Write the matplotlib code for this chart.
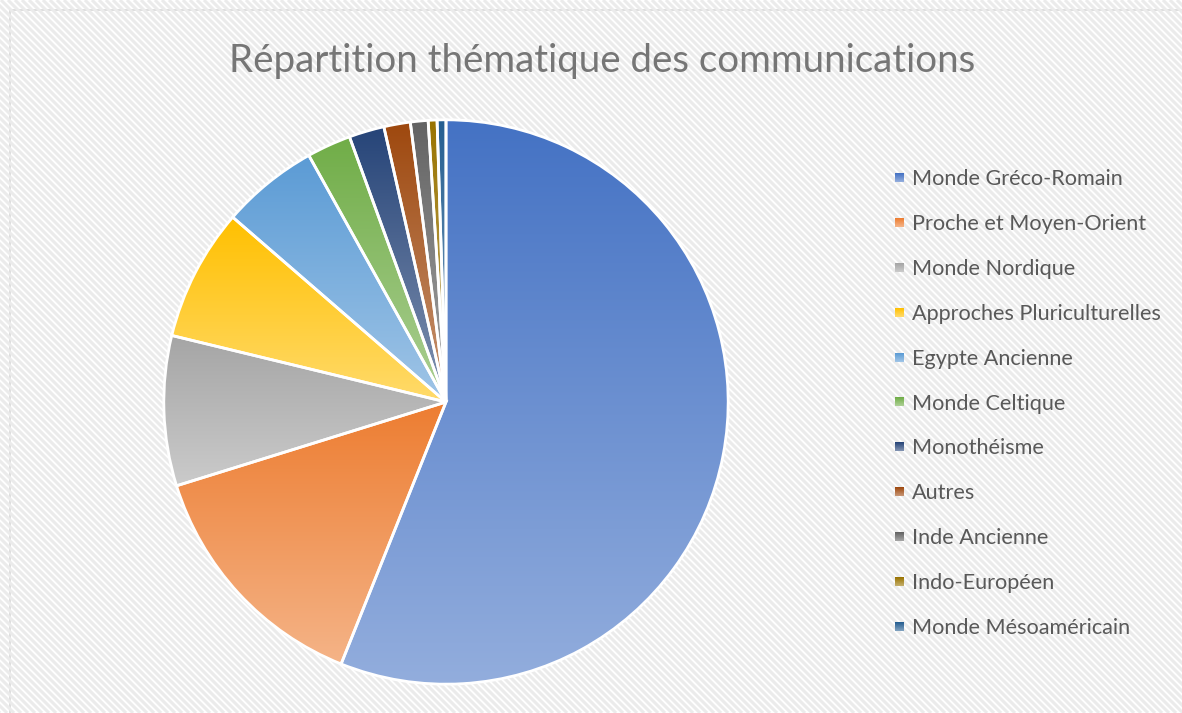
import numpy as np
import matplotlib
matplotlib.use("Agg")
import matplotlib.pyplot as plt
import matplotlib.patches as mpatches
from matplotlib.collections import LineCollection
from matplotlib.colors import to_rgb

TITLE = "Répartition thématique des communications"

labels = [
    "Monde Gréco-Romain",
    "Proche et Moyen-Orient",
    "Monde Nordique",
    "Approches Pluriculturelles",
    "Egypte Ancienne",
    "Monde Celtique",
    "Monothéisme",
    "Autres",
    "Inde Ancienne",
    "Indo-Européen",
    "Monde Mésoaméricain",
]
counts = [111, 28, 17, 15, 11, 5, 4, 3, 2, 1, 1]

colors = ["#4472C4", "#ED7D31", "#A5A5A5", "#FFC000", "#5B9BD5", "#70AD47",
          "#264478", "#9E480E", "#636363", "#997300", "#255E91"]

W, H = 1182, 713
fig = plt.figure(figsize=(W / 100, H / 100), dpi=100)
fig.patch.set_facecolor("white")


def gradient(c, n=256):
    top = np.array(to_rgb(c))
    bot = top + (1 - top) * 0.42
    t = np.linspace(0, 1, n)[:, None]
    return (top * (1 - t) + bot * t)[:, None, :]


# background layer in pixel coordinates (y downwards)
bg = fig.add_axes([0, 0, 1, 1])
bg.set_xlim(0, W)
bg.set_ylim(H, 0)
bg.axis("off")

area = mpatches.Rectangle((10, 10), W, H, facecolor="white",
                          edgecolor="#d9d9d9", linewidth=1.2)
bg.add_patch(area)
segs = [[(c, 0), (c + H, H)] for c in range(-H, W, 7)]
lc = LineCollection(segs, colors="#ebebeb", linewidths=2.2)
lc.set_clip_path(area)
bg.add_collection(lc)

# legend
bg.add_patch(mpatches.Rectangle((880, 152), 292, 501, facecolor="white",
                                alpha=0.75, edgecolor="none"))
for i, (lab, col) in enumerate(zip(labels, colors)):
    base = 185 + i * 44.9
    bg.imshow(gradient(col, 16), extent=(895, 904, base - 3, base - 12),
              aspect="auto", zorder=3)
    bg.text(912, base, lab, fontsize=15.6, family="Lato", color="#595959",
            va="baseline", ha="left", zorder=3)
bg.set_xlim(0, W)
bg.set_ylim(H, 0)

bg.text(602, 72, TITLE, fontsize=27.7, family="Lato", color="#767676",
        ha="center", va="baseline")

# pie
cx, cy, r = 446, 402, 285
ax = fig.add_axes([(cx - r) / W, (H - cy - r) / H, 2 * r / W, 2 * r / H])
wedges, _ = ax.pie(counts, startangle=90, counterclock=False, radius=1,
                   colors=colors,
                   wedgeprops=dict(edgecolor="white", linewidth=2))
for w, col in zip(wedges, colors):
    w.set_facecolor("none")
    w.set_zorder(2)
    ext = w.get_path().get_extents()
    im = ax.imshow(gradient(col), extent=(ext.x0, ext.x1, ext.y0, ext.y1),
                   origin="upper", aspect="auto", zorder=1)
    im.set_clip_path(w)
ax.set_xlim(-1.01, 1.01)
ax.set_ylim(-1.01, 1.01)
ax.set_aspect("equal")
ax.axis("off")

fig.savefig("out.png", dpi=100)
